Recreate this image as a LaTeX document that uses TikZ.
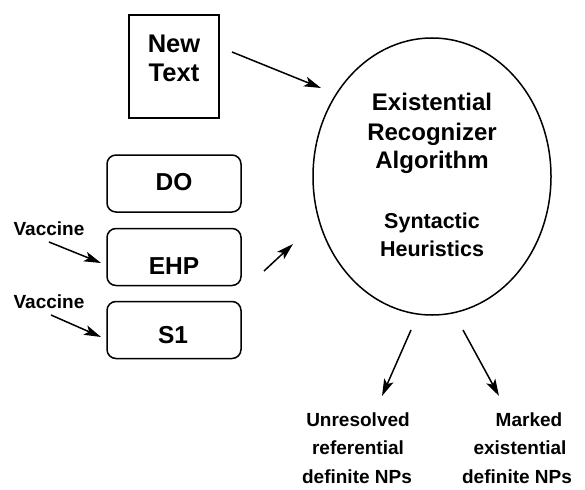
\documentclass[tikz,border=0pt]{standalone}
\usepackage{fontspec}
\setmainfont{Liberation Sans}
\usetikzlibrary{arrows.meta,shapes.geometric}
\begin{document}
\begin{tikzpicture}[x=1pt,y=-1pt,
  boxline/.style={draw=black,line width=1.5pt},
  sqbox/.style={boxline,rectangle,inner sep=0pt},
  rbox/.style={boxline,rectangle,rounded corners=9pt,inner sep=0pt,minimum width=134pt,minimum height=57pt},
  lbl/.style={inner sep=0pt,anchor=base,font=\bfseries\fontsize{24.5}{29}\selectfont},
  small/.style={inner sep=0pt,anchor=base,font=\bfseries\fontsize{19}{22}\selectfont},
  outl/.style={inner sep=0pt,anchor=base,font=\bfseries\fontsize{19}{28}\selectfont},
  arr/.style={line width=1.5pt,-{Stealth[length=17pt,width=10pt,inset=4pt]}}]
\useasboundingbox (0,0) rectangle (585,489);
% boxes
\node[sqbox,minimum width=90pt,minimum height=103pt] (newtext) at (174,66.5) {};
\node[lbl,font=\bfseries\fontsize{25.5}{29}\selectfont] (newl1) at (174,53) {New};
\node[lbl,font=\bfseries\fontsize{25.5}{29}\selectfont] (newl2) at (174,82) {Text};
\node[rbox] (do) at (174,183.5) {};
\node[lbl] (dol) at (174,190) {DO};
\node[rbox] (ehp) at (174,257) {};
\node[lbl] (ehpl) at (174,274) {EHP};
\node[rbox] (s1) at (174,330) {};
\node[lbl] (s1l) at (173,343) {S1};
% vaccines
\node[small] (vac1) at (49,235) {Vaccine};
\node[small] (vac2) at (49,308) {Vaccine};
% ellipse
\node[ellipse,boxline,minimum width=238pt,minimum height=277pt,inner sep=0pt] (era) at (432,176.5) {};
\node[lbl,font=\bfseries\fontsize{24}{29}\selectfont] (e1) at (432,111) {Existential};
\node[lbl,font=\bfseries\fontsize{24}{29}\selectfont] (e2) at (432,140) {Recognizer};
\node[lbl,font=\bfseries\fontsize{24}{29}\selectfont] (e3) at (432,168) {Algorithm};
\node[lbl,font=\bfseries\fontsize{21.5}{28}\selectfont] (e4) at (432,228) {Syntactic};
\node[lbl,font=\bfseries\fontsize{21.5}{28}\selectfont] (e5) at (432,256) {Heuristics};
% outputs
\node[outl] (u1) at (358,426) {Unresolved};
\node[outl] (u2) at (358,454) {referential};
\node[outl] (u3) at (357,483) {definite NPs};
\node[outl] (m1) at (529,426) {Marked};
\node[outl] (m2) at (520,454) {existential};
\node[outl] (m3) at (517,483) {definite NPs};
% arrow endpoints
\coordinate (a1s) at (232,52);
\coordinate (a1e) at (321,88);
\coordinate (v1s) at (49,242);
\coordinate (v1e) at (101,263);
\coordinate (v2s) at (51,315);
\coordinate (v2e) at (101,337);
\coordinate (hs) at (264,271);
\coordinate (he) at (293,244);
\coordinate (bls) at (411,330);
\coordinate (ble) at (382,396);
\coordinate (brs) at (463,330);
\coordinate (bre) at (499,396);
\draw[arr] (a1s) -- (a1e);
\draw[arr] (v1s) -- (v1e);
\draw[arr] (v2s) -- (v2e);
\draw[arr] (hs) -- (he);
\draw[arr] (bls) -- (ble);
\draw[arr] (brs) -- (bre);
\end{tikzpicture}
\end{document}
